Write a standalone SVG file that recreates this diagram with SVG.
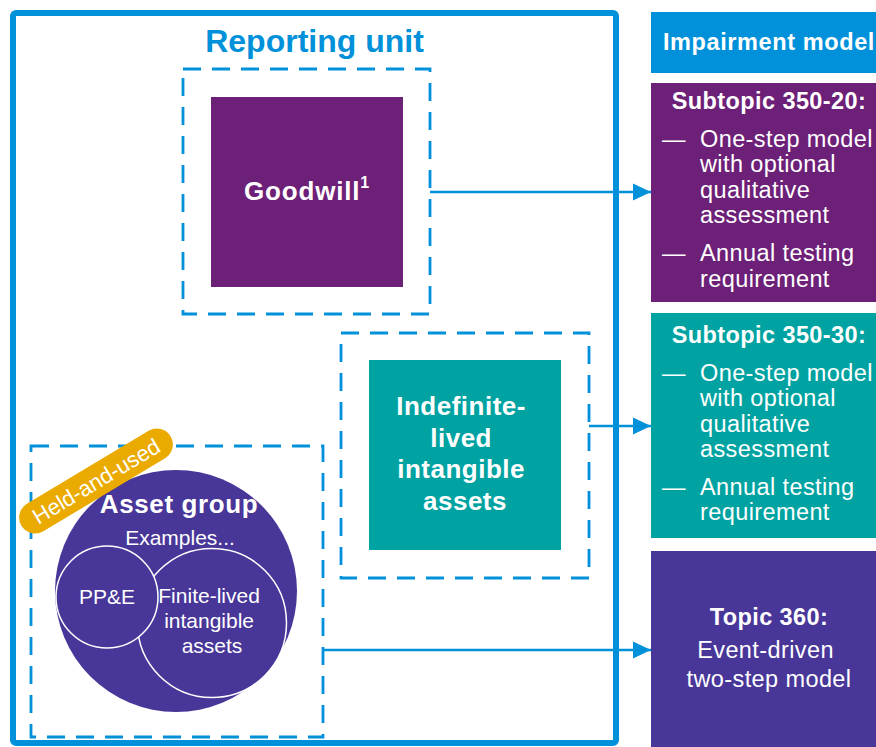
<svg xmlns="http://www.w3.org/2000/svg" width="876" height="747" viewBox="0 0 876 747">
<defs>
<style>
.t{font-family:"Liberation Sans",Arial,Helvetica,sans-serif;fill:#ffffff}
.b{font-weight:bold}
.dash{fill:none;stroke:#0091DA;stroke-width:2.8;stroke-dasharray:18 11}
.conn{fill:none;stroke:#0091DA;stroke-width:2.5}
.bul{font-size:23.5px;letter-spacing:0.4px}
.hd{font-size:23.5px;letter-spacing:0.4px;font-weight:bold}
</style>
<marker id="ah" markerUnits="userSpaceOnUse" markerWidth="18" markerHeight="18" refX="18" refY="9" orient="auto">
<path d="M0,0.5 L18,9 L0,17.5 Z" fill="#0091DA"/>
</marker>
</defs>
<rect width="876" height="747" fill="#ffffff"/>

<g id="reporting-unit">
<rect x="13" y="13" width="603" height="730" rx="3" fill="none" stroke="#0091DA" stroke-width="6"/>
<text class="t b" x="314.5" y="52" text-anchor="middle" font-size="32" style="fill:#0091DA">Reporting unit</text>
</g>

<g id="goodwill">
<rect class="dash" x="183" y="69" width="247" height="245"/>
<rect x="211" y="97" width="192" height="190" fill="#6D2077"/>
<text class="t b" x="307" y="200" text-anchor="middle" font-size="26" letter-spacing="0.8">Goodwill<tspan font-size="16" dy="-12">1</tspan></text>
</g>

<g id="indefinite">
<rect class="dash" x="341" y="333" width="248" height="245"/>
<rect x="369" y="360" width="192" height="190" fill="#00A3A1"/>
<text class="t b" text-anchor="middle" font-size="26" letter-spacing="0.5">
<tspan x="465" y="415">Indefinite-</tspan>
<tspan x="465" y="447">lived</tspan>
<tspan x="465" y="478">intangible</tspan>
<tspan x="465" y="510">assets</tspan>
</text>
</g>

<g id="asset-group">
<rect class="dash" x="31" y="446" width="292" height="291"/>
<circle cx="176" cy="591" r="121" fill="#483698"/>
<circle cx="212" cy="623" r="74.5" fill="#483698" stroke="#ffffff" stroke-width="1.5"/>
<circle cx="107" cy="597" r="51" fill="#483698" stroke="#ffffff" stroke-width="1.5"/>
<text class="t b" x="179" y="513" text-anchor="middle" font-size="26" letter-spacing="0.6">Asset group</text>
<text class="t" x="180" y="545" text-anchor="middle" font-size="21">Examples...</text>
<text class="t" x="107" y="604" text-anchor="middle" font-size="21">PP&amp;E</text>
<text class="t" text-anchor="middle" font-size="21">
<tspan x="212" y="603">Finite-lived</tspan>
<tspan x="212" y="628">intangible</tspan>
<tspan x="212" y="653">assets</tspan>
</text>
</g>

<g id="held-and-used" transform="translate(96 481) rotate(-31)">
<rect x="-87" y="-16" width="174" height="32" rx="16" fill="#EAAA00"/>
<text class="t" x="0" y="8" text-anchor="middle" font-size="22">Held-and-used</text>
</g>

<g id="impairment-model">
<rect x="651" y="12" width="236" height="61" fill="#0091DA"/>
<text class="t b" x="769" y="50" text-anchor="middle" font-size="23.5" letter-spacing="0.6">Impairment model</text>
</g>

<g id="subtopic-350-20">
<rect x="651" y="83" width="236" height="219" fill="#6D2077"/>
<text class="t hd" x="769" y="108.5" text-anchor="middle">Subtopic 350-20:</text>
<text class="t bul" x="662" y="146.7">—</text>
<text class="t bul">
<tspan x="700" y="146.7">One-step model</tspan>
<tspan x="700" y="172.2">with optional</tspan>
<tspan x="700" y="197.7">qualitative</tspan>
<tspan x="700" y="223.2">assessment</tspan>
</text>
<text class="t bul" x="662" y="261">—</text>
<text class="t bul">
<tspan x="700" y="261">Annual testing</tspan>
<tspan x="700" y="286.5">requirement</tspan>
</text>
</g>

<g id="subtopic-350-30">
<rect x="651" y="313" width="236" height="225" fill="#00A3A1"/>
<text class="t hd" x="769" y="342.7" text-anchor="middle">Subtopic 350-30:</text>
<text class="t bul" x="662" y="380.5">—</text>
<text class="t bul">
<tspan x="700" y="380.5">One-step model</tspan>
<tspan x="700" y="406">with optional</tspan>
<tspan x="700" y="431.5">qualitative</tspan>
<tspan x="700" y="457">assessment</tspan>
</text>
<text class="t bul" x="662" y="494.5">—</text>
<text class="t bul">
<tspan x="700" y="494.5">Annual testing</tspan>
<tspan x="700" y="520">requirement</tspan>
</text>
</g>

<g id="topic-360">
<rect x="651" y="551" width="236" height="200" fill="#483698"/>
<text class="t hd" x="769" y="625" text-anchor="middle">Topic 360:</text>
<text class="t bul" text-anchor="middle">
<tspan x="769" y="658">Event-driven</tspan>
<tspan x="769" y="687">two-step model</tspan>
</text>
</g>

<g id="connectors">
<line class="conn" x1="430" y1="192" x2="651" y2="192" marker-end="url(#ah)"/>
<line class="conn" x1="589" y1="426" x2="651" y2="426" marker-end="url(#ah)"/>
<line class="conn" x1="323" y1="650" x2="651" y2="650" marker-end="url(#ah)"/>
</g>
</svg>
